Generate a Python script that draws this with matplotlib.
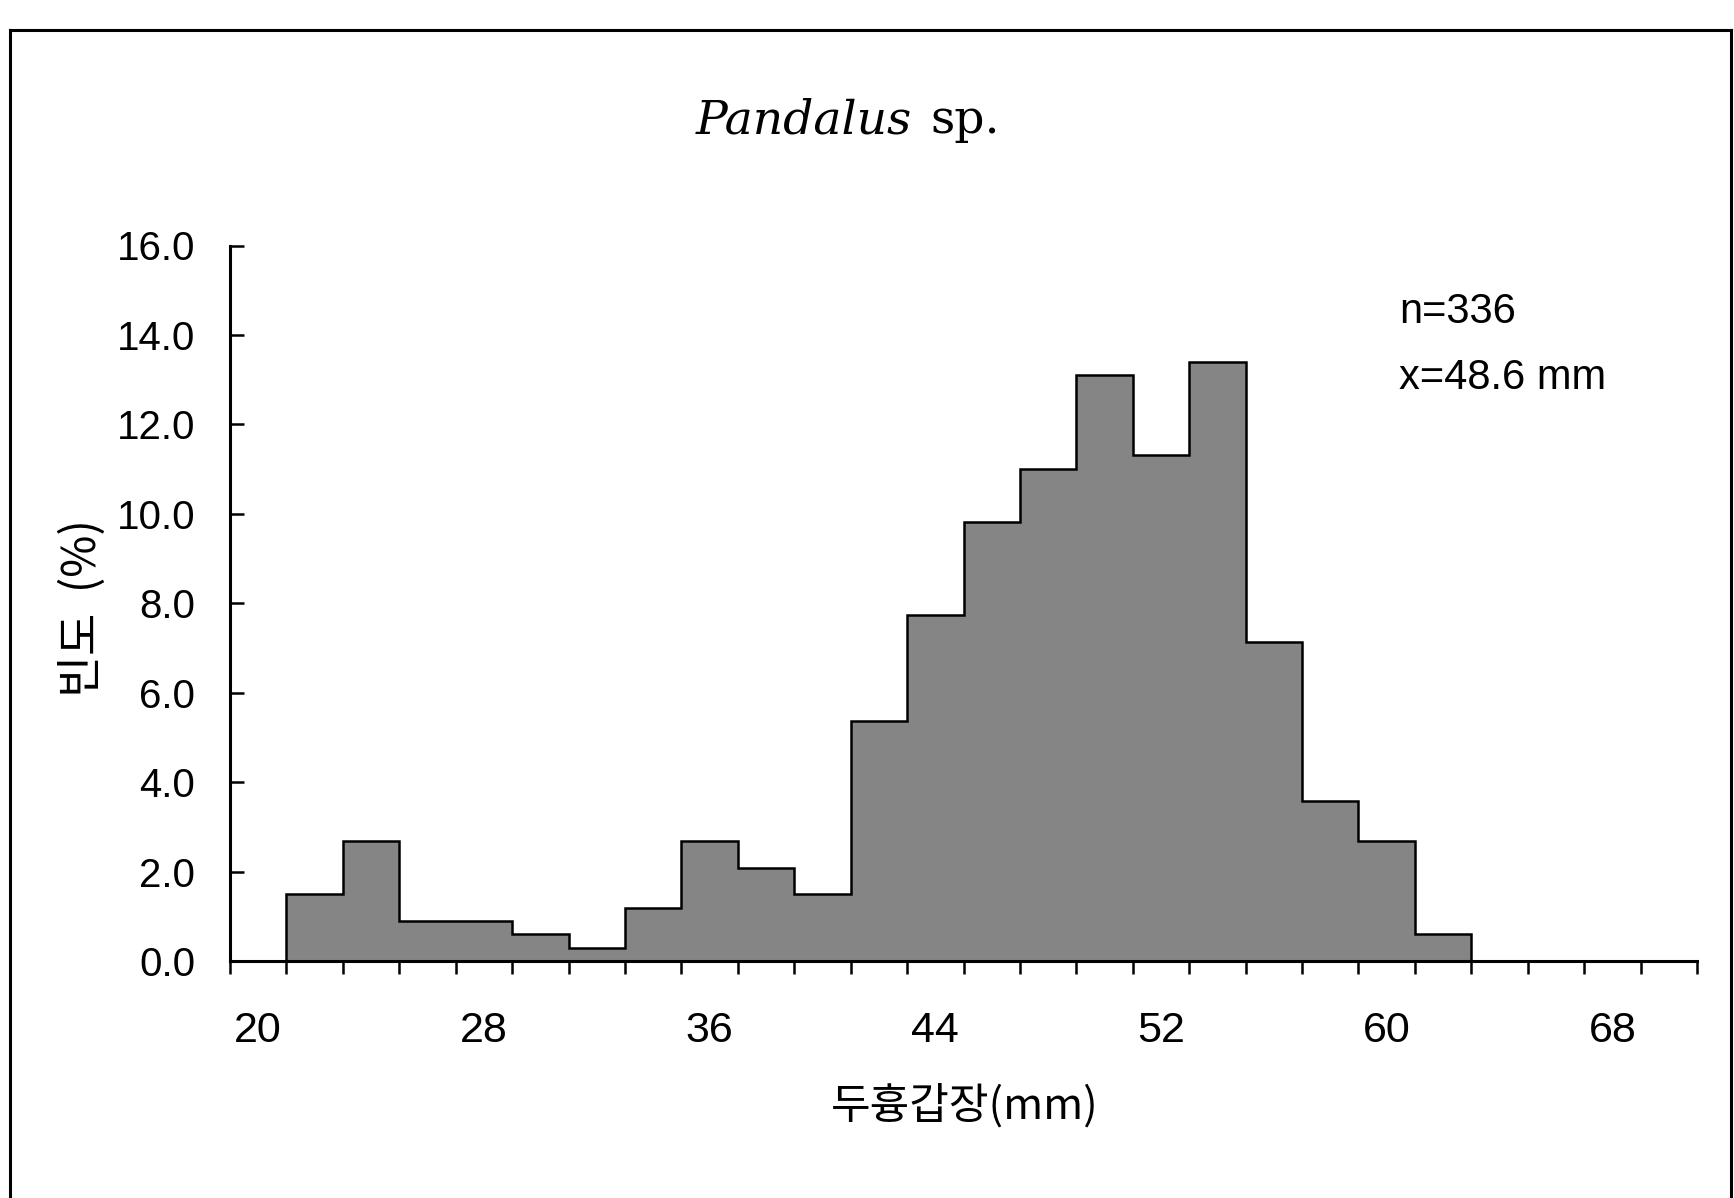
import numpy as np
import matplotlib
matplotlib.use("Agg")
import matplotlib.pyplot as plt
from matplotlib.lines import Line2D

# carapace length class (mm) and frequency (%)
length_class = [20, 22, 24, 26, 28, 30, 32, 34, 36, 38, 40, 42, 44,
                46, 48, 50, 52, 54, 56, 58, 60, 62, 64, 66, 68, 70]
freq_pct = [0.00, 1.49, 2.68, 0.89, 0.89, 0.60, 0.30, 1.19, 2.68, 2.08,
            1.49, 5.36, 7.74, 9.82, 11.01, 13.10, 11.31, 13.39, 7.14, 3.57,
            2.68, 0.60, 0.00, 0.00, 0.00, 0.00]
shown_labels = ["20", "28", "36", "44", "52", "60", "68"]
y_ticks = [0, 2, 4, 6, 8, 10, 12, 14, 16]

W, H = 1734, 1198
SANS = ["Liberation Sans", "DejaVu Sans"]
KR = ["Noto Sans CJK KR", "DejaVu Sans"]

fig = plt.figure(figsize=(W / 100, H / 100), dpi=100)
ax = fig.add_axes([230 / W, 1 - 961 / H, (1697 - 230) / W, (961 - 245.5) / H])

n = len(length_class)
edges = np.arange(n + 1) - 0.5
ax.stairs(freq_pct, edges, fill=True, color="#858585", lw=0)
ax.stairs(freq_pct, edges, color="black", lw=1.8)

ax.set_xlim(-0.5, n - 0.5)
ax.set_ylim(0, 16)
for s in ("top", "right"):
    ax.spines[s].set_visible(False)
for s in ("left", "bottom"):
    ax.spines[s].set_linewidth(2.2)

# labels centred under every 4th class, tick marks on class boundaries
ax.set_xticks(np.arange(0, n, 4))
ax.set_xticklabels(shown_labels, fontfamily=SANS, fontsize=31)
ax.set_xticks(edges, minor=True)
ax.tick_params(axis="x", which="major", length=0, pad=36)
ax.tick_params(axis="x", which="minor", direction="out", length=9, width=1.8)

ax.set_yticks(y_ticks)
ax.set_yticklabels([f"{v:.1f}" for v in y_ticks], fontfamily=SANS, fontsize=29)
ax.tick_params(axis="y", direction="in", length=10, width=1.8, pad=25)

# title: genus in italic, "sp." upright
ty = 1 - 133 / H
fig.text(912 / W, ty, "Pandalus", fontfamily="DejaVu Serif", style="italic",
         fontsize=34, ha="right", va="baseline")
fig.text(930 / W, ty, "sp.", fontfamily="DejaVu Serif", fontsize=34,
         ha="left", va="baseline")

fig.text(83 / W, 1 - 608 / H, "빈도  (%)", family=KR, fontsize=33,
         rotation=90, ha="center", va="center")
fig.text(965 / W, 1 - 1106 / H, "두흉갑장(mm)", family=KR, fontsize=31,
         ha="center", va="center")

fig.text(1399 / W, 1 - 323 / H, "n=336", fontfamily=SANS, fontsize=30,
         ha="left", va="baseline")
fig.text(1399 / W, 1 - 389 / H, "x=48.6 mm", fontfamily=SANS, fontsize=30,
         ha="left", va="baseline")

# outer frame (open at the bottom, as in the scan)
for xs, ys in [([10 / W, 10 / W], [0, 1 - 30 / H]),
               ([10 / W, 1731 / W], [1 - 30 / H, 1 - 30 / H]),
               ([1731 / W, 1731 / W], [0, 1 - 30 / H])]:
    fig.add_artist(Line2D(xs, ys, transform=fig.transFigure, color="black", lw=2.2))

fig.savefig("out.png", dpi=100)
